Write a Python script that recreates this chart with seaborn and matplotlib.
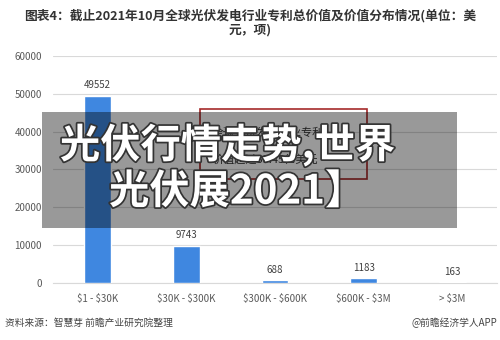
import seaborn as sns
import matplotlib.pyplot as plt
import matplotlib.patheffects as pe
from matplotlib.patches import Rectangle
import pandas as pd

# data
categories = ['$1 - $30K', '$30K - $300K', '$300K - $600K', '$600K - $3M', '> $3M']
patents = [49552, 9743, 688, 1183, 163]
yticks = [0, 10000, 20000, 30000, 40000, 50000, 60000]

df = pd.DataFrame({'range': categories, 'count': patents})

sns.set_style('white')
plt.rcParams['font.family'] = ['Noto Sans CJK SC', 'DejaVu Sans']
plt.rcParams['text.parse_math'] = False  # keep the $ signs literal

fig = plt.figure(figsize=(5, 3.4), dpi=100)
ax = fig.add_axes([0.106, 0.168, 0.888, 0.667])

sns.barplot(data=df, x='range', y='count', color='#3F87E0', width=0.3,
            saturation=1, ax=ax, zorder=3)

ax.set_ylim(0, 60000)
ax.set_xlim(-0.5, 4.5)
ax.set_yticks(yticks)
ax.set_yticklabels([str(v) for v in yticks])
ax.set_xlabel('')
ax.set_ylabel('')
ax.yaxis.grid(True, color='#D9D9D9', linewidth=0.8, zorder=0)
ax.tick_params(axis='both', length=0, labelsize=7, colors='#595959', pad=8)
for s in ['top', 'right', 'left']:
    ax.spines[s].set_visible(False)
ax.spines['bottom'].set_color('#D9D9D9')

for i, v in enumerate(patents):
    ax.text(i, v + 1500, str(v), ha='center', va='bottom', fontsize=7, color='#404040')

# title
fig.text(0.5, 0.955, '图表4：截止2021年10月全球光伏发电行业专利总价值及价值分布情况(单位：美',
         ha='center', va='center', fontsize=9.2, fontweight='bold', color='#333333')
fig.text(0.5, 0.913, '元，项)', ha='center', va='center', fontsize=9.2,
         fontweight='bold', color='#333333')

# annotation box
fig.patches.append(Rectangle((0.4, 0.4735), 0.334, 0.206, transform=fig.transFigure,
                             fill=False, edgecolor='#A52A2A', linewidth=1.2, zorder=4))
fig.text(0.425, 0.61, '全球光伏发电行业专利', fontsize=8, color='#333333', va='center')
fig.text(0.425, 0.53, '价值超过33.45亿美元', fontsize=8, color='#333333', va='center')

# footnotes
fig.text(0.01, 0.05, '资料来源：智慧芽 前瞻产业研究院整理', fontsize=7, color='#444444', va='center')
fig.text(0.995, 0.05, '@前瞻经济学人APP', fontsize=7, color='#444444', va='center', ha='right')

# overlay banner
fig.patches.append(Rectangle((0.084, 0.329), 0.83, 0.341, transform=fig.transFigure,
                             facecolor='black', alpha=0.4, edgecolor='none', zorder=10))
outline = [pe.withStroke(linewidth=2.5, foreground='#333333')]
fig.text(0.455, 0.573, '光伏行情走势,世界', ha='center', va='center', fontsize=29,
         fontweight='heavy', color='white', path_effects=outline, zorder=11)
fig.text(0.474, 0.435, '光伏展2021】', ha='center', va='center', fontsize=29,
         fontweight='heavy', color='white', path_effects=outline, zorder=11)

fig.savefig('out.png', dpi=100)
